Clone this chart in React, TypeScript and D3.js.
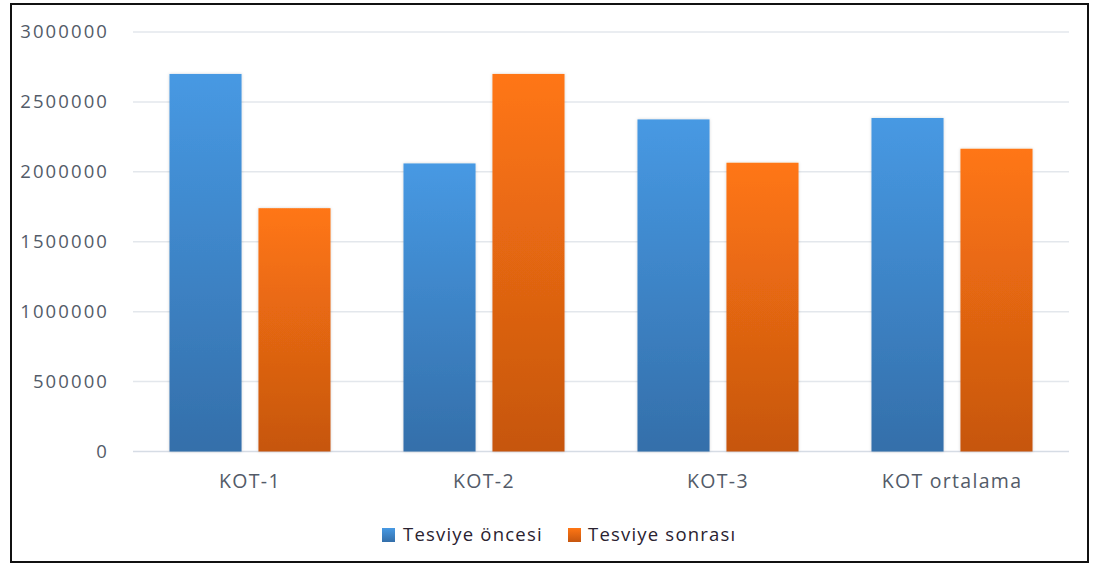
import React from "react";
import * as d3 from "d3";

const categories = ["KOT-1", "KOT-2", "KOT-3", "KOT ortalama"];
const seriesNames = ["Tesviye öncesi", "Tesviye sonrası"];
const before = [2700000, 2060000, 2375000, 2385000];
const after = [1740000, 2700000, 2065000, 2165000];
const yTicks = [0, 500000, 1000000, 1500000, 2000000, 2500000, 3000000];

const W = 1096;
const H = 565;
const FONT = "'Open Sans', 'DejaVu Sans', sans-serif";

export default function App() {
  const x = d3.scaleBand<string>().domain(categories).range([133, 1069]).paddingInner(0).paddingOuter(0);
  const inner = d3.scaleBand<string>().domain(["0", "1"]).range([0, x.bandwidth()]).paddingInner(0.19).paddingOuter(0.41);
  const y = d3.scaleLinear().domain([0, 3000000]).range([451.5, 32]);
  const series = [before, after];
  const grads = ["gBlue", "gOrange"];

  return (
    <svg width={W} height={H} style={{ position: "absolute", left: 0, top: 0, background: "#fff" }}>
      <defs>
        <linearGradient id="gBlue" x1="0" y1="0" x2="0" y2="1">
          <stop offset="0" stopColor="#4799E3" />
          <stop offset="1" stopColor="#346FAA" />
        </linearGradient>
        <linearGradient id="gOrange" x1="0" y1="0" x2="0" y2="1">
          <stop offset="0" stopColor="#FF7614" />
          <stop offset="1" stopColor="#C6560F" />
        </linearGradient>
        <filter id="shadow" x="-20%" y="-20%" width="140%" height="140%">
          <feDropShadow dx="0" dy="0" stdDeviation="1.5" floodColor="#000" floodOpacity="0.18" />
        </filter>
      </defs>
      <rect x={11} y={4} width={1077} height={558} fill="#fff" stroke="#111" strokeWidth={2} />
      {yTicks.map((t) => (
        <g key={t}>
          <line x1={133} x2={1069} y1={y(t)} y2={y(t)} stroke={t === 0 ? "#D6DCE5" : "#E3E7EC"} strokeWidth={1.5} />
          <text x={109} y={y(t)} dy="0.35em" textAnchor="end" fontFamily={FONT} fontSize={18.5} fill="#535B68" letterSpacing={2.1}>
            {t}
          </text>
        </g>
      ))}
      {categories.map((c, i) => (
        <g key={c}>
          {series.map((s, k) => (
            <rect
              key={k}
              x={(x(c) as number) + (inner(String(k)) as number)}
              y={y(s[i])}
              width={inner.bandwidth()}
              height={y(0) - y(s[i])}
              fill={`url(#${grads[k]})`}
              filter="url(#shadow)"
            />
          ))}
          <text x={(x(c) as number) + x.bandwidth() / 2} y={481} dy="0.35em" textAnchor="middle" fontFamily={FONT} fontSize={19.5} fill="#535B68" letterSpacing={1.3}>
            {c}
          </text>
        </g>
      ))}
      <g>
        <rect x={382} y={528} width={13} height={14} fill="url(#gBlue)" />
        <text x={403} y={535} dy="0.35em" fontFamily={FONT} fontSize={18.5} fill="#2A2230" letterSpacing={1.2}>
          {seriesNames[0]}
        </text>
        <rect x={568} y={528} width={13} height={14} fill="url(#gOrange)" />
        <text x={588} y={535} dy="0.35em" fontFamily={FONT} fontSize={18.5} fill="#2A2230" letterSpacing={1.2}>
          {seriesNames[1]}
        </text>
      </g>
    </svg>
  );
}
